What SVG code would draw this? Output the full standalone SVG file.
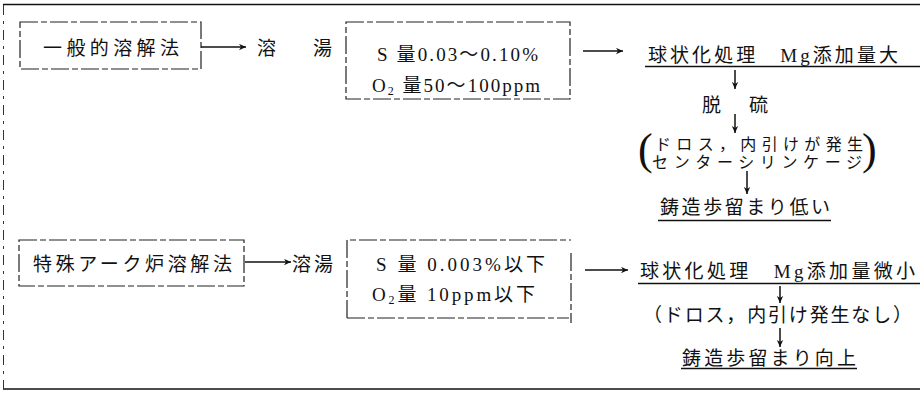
<svg xmlns="http://www.w3.org/2000/svg" width="920" height="394" viewBox="0 0 920 394">
<style>
.t{font-family:"Liberation Serif","Noto Sans CJK JP",serif;font-size:19px;fill:#111}
.s{font-size:16px}
.box{fill:none;stroke:#222;stroke-width:1.2;stroke-dasharray:18 3 6 3}
.fr{fill:none;stroke:#111;stroke-width:1.6}
.frd{fill:none;stroke:#333;stroke-width:1;stroke-dasharray:10 6 3 6}
.ln{stroke:#111;stroke-width:1.5;fill:none}
.ul{stroke:#111;stroke-width:1.3}
.par{font-family:"Liberation Serif",serif;font-size:44px;fill:#111}
</style>
<defs>
<marker id="ah" viewBox="0 0 10 10" refX="10" refY="5" markerWidth="8" markerHeight="7" orient="auto" markerUnits="userSpaceOnUse">
<path d="M0,0.5 L10,5 L0,9.5 L3,5 z" fill="#111"/>
</marker>
</defs>
<g id="frame">
<line class="fr" x1="3" y1="4.5" x2="920" y2="4.5"/>
<line class="fr" x1="3" y1="389" x2="920" y2="389"/>
<line class="frd" x1="3.5" y1="5" x2="3.5" y2="389"/>
</g>
<g id="general-melting">
<rect class="box" x="20" y="22" width="181" height="47"/>
<text class="t" x="43" y="55" textLength="136" lengthAdjust="spacing">一般的溶解法</text>
</g>
<g id="melt1">
<text class="t" x="257" y="55" textLength="75" lengthAdjust="spacing">溶　湯</text>
</g>
<g id="comp1">
<rect class="box" x="346" y="22" width="224" height="77"/>
<text class="t" x="377" y="61" textLength="161" lengthAdjust="spacing">S 量0.03～0.10%</text>
<text class="t" x="372" y="92" textLength="168" lengthAdjust="spacing">O<tspan font-size="12" dy="3">2</tspan><tspan dy="-3"> 量50～100ppm</tspan></text>
</g>
<g id="treat1">
<text class="t" x="648" y="62" textLength="250" lengthAdjust="spacing">球状化処理　Mg添加量大</text>
<line class="ul" x1="645" y1="66.5" x2="920" y2="66.5"/>
</g>
<g id="desulf">
<text class="t" x="702" y="112" textLength="66" lengthAdjust="spacing">脱　硫</text>
</g>
<g id="defects1">
<text class="par" x="638" y="164">(</text>
<text class="t s" x="655" y="150" textLength="208" lengthAdjust="spacing">ドロス，内引けが発生</text>
<text class="t s" x="652" y="168" textLength="210" lengthAdjust="spacing">センターシリンケージ</text>
<text class="par" x="862" y="164">)</text>
</g>
<g id="yield1">
<text class="t" x="660" y="214" textLength="170" lengthAdjust="spacing">鋳造歩留まり低い</text>
<line class="ul" x1="658" y1="220.5" x2="831" y2="220.5"/>
</g>
<g id="arc-melting">
<rect class="box" x="19" y="240" width="225" height="46"/>
<text class="t" x="33" y="271" textLength="199" lengthAdjust="spacing">特殊アーク炉溶解法</text>
</g>
<g id="melt2">
<text class="t" x="292" y="271" textLength="41" lengthAdjust="spacing">溶湯</text>
</g>
<g id="comp2">
<path class="box" d="M347,318 V240 H571 M571,253 V323 M347,318 H569"/>
<text class="t" x="376" y="271" textLength="169" lengthAdjust="spacing">S 量 0.003%以下</text>
<text class="t" x="372" y="301" textLength="163" lengthAdjust="spacing">O<tspan font-size="12" dy="3">2</tspan><tspan dy="-3">量 10ppm以下</tspan></text>
</g>
<g id="treat2">
<text class="t" x="640" y="278" textLength="275" lengthAdjust="spacing">球状化処理　Mg添加量微小</text>
<line class="ul" x1="638" y1="283.5" x2="920" y2="283.5"/>
</g>
<g id="defects2">
<text class="t" x="643" y="322" textLength="269" lengthAdjust="spacing">（ドロス，内引け発生なし）</text>
</g>
<g id="yield2">
<text class="t" x="682" y="365" textLength="174" lengthAdjust="spacing">鋳造歩留まり向上</text>
<line class="ul" x1="681" y1="368.5" x2="857" y2="368.5"/>
</g>
<g id="connectors">
<line class="ln" x1="201" y1="47" x2="246" y2="47" marker-end="url(#ah)"/>
<line class="ln" x1="583" y1="51" x2="623" y2="51" marker-end="url(#ah)"/>
<line class="ln" x1="735" y1="70" x2="735" y2="89" marker-end="url(#ah)"/>
<line class="ln" x1="735" y1="114" x2="735" y2="133" marker-end="url(#ah)"/>
<line class="ln" x1="747" y1="171" x2="747" y2="194" marker-end="url(#ah)"/>
<line class="ln" x1="245" y1="262" x2="291" y2="262" marker-end="url(#ah)"/>
<line class="ln" x1="585" y1="270" x2="628" y2="270" marker-end="url(#ah)"/>
<line class="ln" x1="780" y1="286" x2="780" y2="303" marker-end="url(#ah)"/>
<line class="ln" x1="780" y1="328" x2="780" y2="347" marker-end="url(#ah)"/>
</g>
</svg>
